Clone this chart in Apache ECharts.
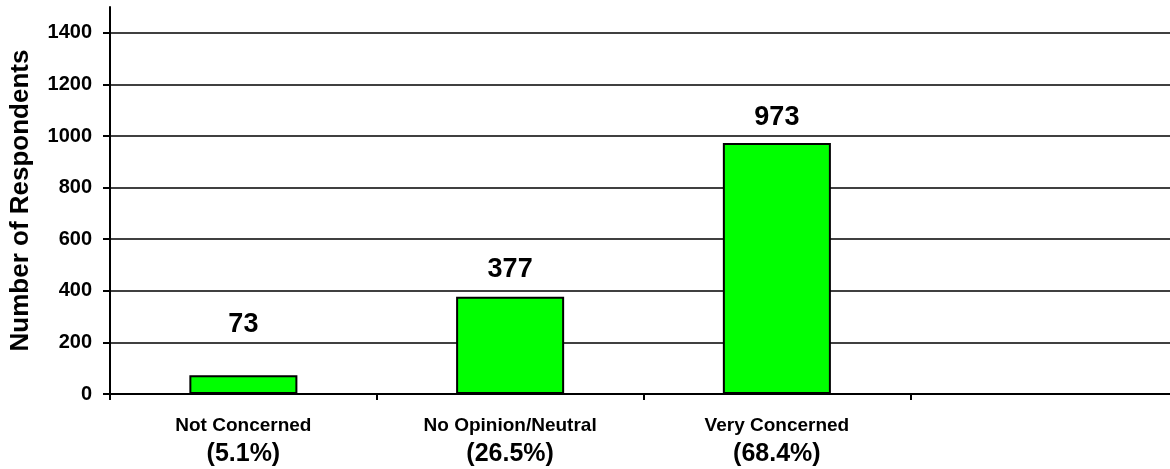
<!DOCTYPE html>
<html>
<head>
<meta charset="utf-8">
<title>Number of Respondents</title>
<script src="https://cdn.jsdelivr.net/npm/echarts@6/dist/echarts.min.js"></script>
<style>
  html, body { margin: 0; padding: 0; background: #fff; }
  #main { width: 1170px; height: 469px; }
</style>
</head>
<body>
<div id="main"></div>
<script>
// data
var categories = ['Not Concerned', 'No Opinion/Neutral', 'Very Concerned', ''];
var percents = ['(5.1%)', '(26.5%)', '(68.4%)', ''];
var respondents = [73, 377, 973];
var yTicks = [0, 200, 400, 600, 800, 1000, 1200, 1400];

// label gap above each bar (the first one sits higher in the original)
var labelGap = [37, 14, 12];

var chart = echarts.init(document.getElementById('main'));
var FONT = '"Liberation Sans", Arial, sans-serif';

chart.setOption({
  animation: false,
  textStyle: { fontFamily: FONT },
  grid: {
    left: 110,
    top: 7,
    right: -7,
    bottom: 75,
    outerBoundsMode: 'none'
  },
  xAxis: {
    type: 'category',
    data: categories,
    axisLine: { lineStyle: { color: '#000', width: 2 } },
    axisTick: { show: true, length: 6, lineStyle: { color: '#000', width: 2 } },
    axisLabel: {
      margin: 20,
      interval: 0,
      formatter: function (v, i) {
        if (!v) return '';
        return '{a|' + v + '}\n{b|' + percents[i] + '}';
      },
      rich: {
        a: { fontFamily: FONT, fontWeight: 'bold', fontSize: 19, lineHeight: 24, color: '#000' },
        b: { fontFamily: FONT, fontWeight: 'bold', fontSize: 25, lineHeight: 32, color: '#000' }
      }
    },
    splitLine: { show: false }
  },
  yAxis: {
    type: 'value',
    min: 0,
    max: 1500,
    interval: 200,
    name: 'Number of Respondents',
    nameLocation: 'middle',
    nameGap: 76,
    nameTextStyle: { fontFamily: FONT, fontWeight: 'bold', fontSize: 26, color: '#000' },
    axisLine: { show: true, lineStyle: { color: '#000', width: 2 } },
    axisTick: { show: true, length: 7, customValues: yTicks, lineStyle: { color: '#000', width: 2 } },
    axisLabel: {
      customValues: yTicks,
      margin: 18,
      formatter: function (v) { return String(v); },
      fontFamily: FONT, fontWeight: 'bold', fontSize: 20, color: '#000'
    },
    splitLine: { show: true, lineStyle: { color: '#000', width: 1.5 } }
  },
  series: [
    {
      type: 'bar',
      barWidth: '40.5%',
      data: respondents.map(function (v, i) {
        return { value: v, label: { distance: labelGap[i] } };
      }),
      itemStyle: { color: '#00ff00', borderColor: '#000', borderWidth: 2 },
      label: {
        show: true,
        position: 'top',
        fontFamily: FONT,
        fontWeight: 'bold',
        fontSize: 27,
        color: '#000'
      }
    }
  ]
});
</script>
</body>
</html>
